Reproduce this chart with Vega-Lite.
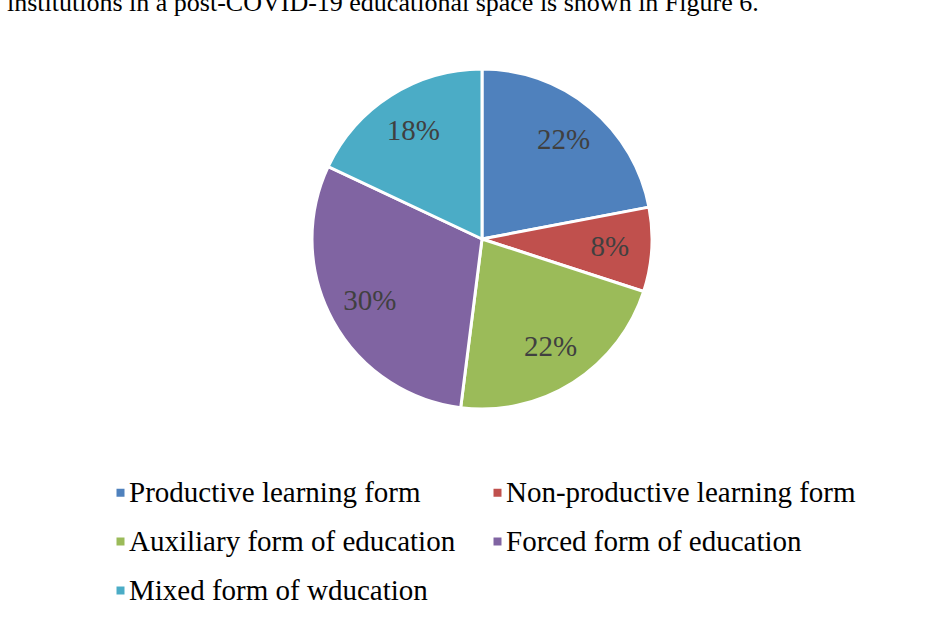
{
  "$schema": "https://vega.github.io/schema/vega-lite/v6.json",
  "autosize": "none",
  "width": 948,
  "height": 340,
  "padding": {"left": 8, "top": 69, "right": 0, "bottom": 210},
  "background": "white",
  "config": {
    "view": {"stroke": null},
    "font": "Liberation Serif"
  },
  "title": {
    "text": "institutions in a post-COVID-19 educational space is shown in Figure 6.",
    "anchor": "start",
    "font": "Liberation Serif",
    "fontSize": 26,
    "fontWeight": "normal",
    "color": "black",
    "baseline": "bottom",
    "offset": 21,
    "dx": -1
  },
  "data": {
    "values": [
      {"idx": 1, "category": "Productive learning form", "value": 22, "label": "22%"},
      {"idx": 2, "category": "Non-productive learning form", "value": 8, "label": "8%"},
      {"idx": 3, "category": "Auxiliary form of education", "value": 22, "label": "22%"},
      {"idx": 4, "category": "Forced form of education", "value": 30, "label": "30%"},
      {"idx": 5, "category": "Mixed form of wducation", "value": 18, "label": "18%"}
    ]
  },
  "encoding": {
    "theta": {"field": "value", "type": "quantitative", "stack": true},
    "order": {"field": "idx", "type": "quantitative"}
  },
  "layer": [
    {
      "mark": {"type": "arc", "outerRadius": 170, "stroke": "white", "strokeWidth": 3},
      "encoding": {
        "color": {
          "field": "category",
          "type": "nominal",
          "sort": null,
          "scale": {
            "domain": ["Productive learning form", "Non-productive learning form", "Auxiliary form of education", "Forced form of education", "Mixed form of wducation"],
            "range": ["#4F81BD", "#C0504D", "#9BBB59", "#8064A2", "#4BACC6"]
          },
          "legend": {
            "title": null,
            "orient": "none",
            "legendX": 98,
            "legendY": 409,
            "columns": 2,
            "direction": "horizontal",
            "symbolType": "square",
            "symbolSize": 64,
            "symbolStrokeWidth": 0,
            "labelFont": "Liberation Serif",
            "labelFontSize": 29,
            "labelColor": "black",
            "labelLimit": 0,
            "labelOffset": -6,
            "columnPadding": 27,
            "rowPadding": 19,
            "padding": 0
          }
        }
      }
    },
    {
      "mark": {"type": "text", "radius": 128, "font": "Liberation Serif", "fontSize": 29, "color": "#404040"},
      "encoding": {
        "text": {"field": "label", "type": "nominal"}
      }
    }
  ]
}
